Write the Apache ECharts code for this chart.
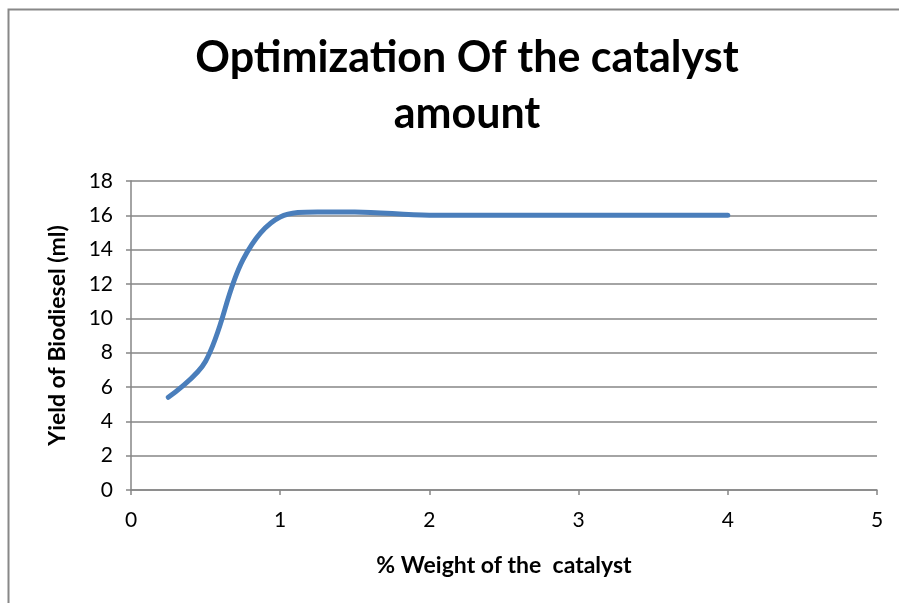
<!DOCTYPE html>
<html>
<head>
<meta charset="utf-8">
<script src="https://cdn.jsdelivr.net/npm/echarts@6/dist/echarts.min.js"></script>
<style>html,body{margin:0;padding:0;background:#fff;}#c{width:899px;height:603px;}</style>
</head>
<body>
<div id="c"></div>
<script>
var catalystWeight = [0.25, 0.5, 0.75, 1, 1.25, 1.5, 2, 3, 4];
var biodieselYield = [5.4, 7.5, 13.4, 15.9, 16.2, 16.2, 16, 16, 16];
var xTicks = [0, 1, 2, 3, 4, 5];
var yTicks = [0, 2, 4, 6, 8, 10, 12, 14, 16, 18];

var chart = echarts.init(document.getElementById('c'), null, {renderer: 'canvas'});
var font = 'Lato, "Open Sans", sans-serif';
chart.setOption({
  animation: false,
  backgroundColor: '#fff',
  title: {
    text: 'Optimization Of the catalyst\namount',
    left: 462, top: 25, textAlign: 'center',
    textStyle: {fontFamily: font, fontWeight: 'bold', fontSize: 43, color: '#000', lineHeight: 56}
  },
  graphic: [{
    type: 'polyline', silent: true,
    shape: {points: [[8.5, 620], [8.5, 9.5], [920, 9.5]]},
    style: {stroke: '#888', lineWidth: 2, fill: null}
  }],
  grid: {left: 131, right: 22, top: 181, bottom: 113, containLabel: false},
  xAxis: {
    type: 'value', min: xTicks[0], max: xTicks[xTicks.length - 1], interval: 1,
    name: '% Weight of the  catalyst', nameLocation: 'middle', nameGap: 64,
    nameTextStyle: {fontFamily: font, fontWeight: 'bold', fontSize: 23, color: '#000'},
    axisLine: {lineStyle: {color: '#868686', width: 1.5}},
    axisTick: {show: true, length: 5, lineStyle: {color: '#868686', width: 1.5}},
    axisLabel: {fontFamily: font, fontSize: 21, color: '#000', margin: 20},
    splitLine: {show: false}
  },
  yAxis: {
    type: 'value', min: yTicks[0], max: yTicks[yTicks.length - 1], interval: 2,
    name: 'Yield of Biodiesel (ml)', nameLocation: 'middle', nameGap: 62, nameRotate: 90,
    nameTextStyle: {fontFamily: font, fontWeight: 'bold', fontSize: 23, color: '#000'},
    axisLine: {show: true, lineStyle: {color: '#868686', width: 1.5}},
    axisTick: {show: true, length: 5, lineStyle: {color: '#868686', width: 1.5}},
    axisLabel: {fontFamily: font, fontSize: 21, color: '#000', margin: 18},
    splitLine: {show: true, lineStyle: {color: '#868686', width: 1.5}}
  },
  series: [{
    type: 'line',
    data: catalystWeight.map(function (x, i) { return [x, biodieselYield[i]]; }),
    smooth: 0.35,
    showSymbol: false,
    lineStyle: {color: '#4A7EBB', width: 5, cap: 'round'}
  }]
});
</script>
</body>
</html>
